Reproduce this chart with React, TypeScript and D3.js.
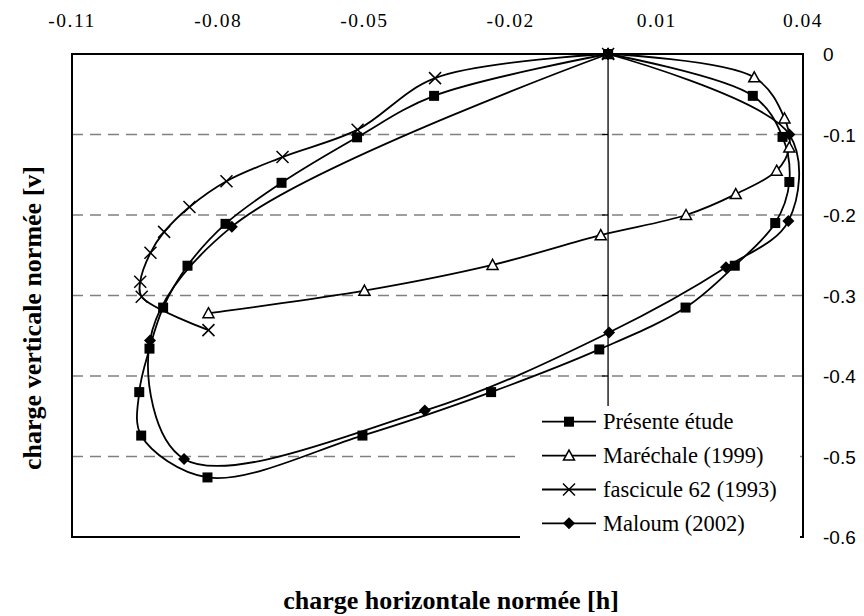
import React from "react";
import * as d3 from "d3";

// ---- data (normalized loads) ----
const xTickValues = [-0.11, -0.08, -0.05, -0.02, 0.01, 0.04];
const xTickLabels = ["-0.11", "-0.08", "-0.05", "-0.02", "0.01", "0.04"];
const yTickValues = [0, -0.1, -0.2, -0.3, -0.4, -0.5, -0.6];
const yTickLabels = ["0", "-0.1", "-0.2", "-0.3", "-0.4", "-0.5", "-0.6"];
const gridValues = [-0.1, -0.2, -0.3, -0.4, -0.5];

const seriesNames = ["Présente étude", "Maréchale (1999)", "fascicule 62 (1993)", "Maloum (2002)"];

const presenteH = [0, 0.0297, 0.0358, 0.0372, 0.0343, 0.026, 0.0159, -0.0018, -0.024, -0.0504, -0.0822, -0.0958, -0.0962, -0.0941, -0.0913, -0.0863, -0.0785, -0.067, -0.0515, -0.0357, 0];
const presenteV = [0, -0.052, -0.103, -0.159, -0.21, -0.263, -0.315, -0.367, -0.42, -0.474, -0.526, -0.474, -0.42, -0.366, -0.315, -0.263, -0.211, -0.16, -0.1035, -0.052, 0];

const marechaleH = [0, 0.03, 0.0362, 0.0372, 0.0346, 0.0262, 0.016, -0.0015, -0.0237, -0.05, -0.082];
const marechaleV = [0, -0.029, -0.08, -0.116, -0.145, -0.174, -0.2, -0.225, -0.262, -0.294, -0.322];

const fasciculeH = [0, -0.0355, -0.0514, -0.0668, -0.0783, -0.0859, -0.0911, -0.0939, -0.096, -0.0957, -0.082];
const fasciculeV = [0, -0.03, -0.094, -0.128, -0.158, -0.19, -0.221, -0.247, -0.283, -0.3015, -0.343];

const maloumH = [0, 0.0372, 0.037, 0.0242, 0.0002, -0.0376, -0.087, -0.094, -0.0772, 0];
const maloumV = [0, -0.1, -0.2075, -0.265, -0.346, -0.443, -0.503, -0.356, -0.2145, 0];

type MarkerType = "square" | "triangle" | "cross" | "diamond";

const W = 864;
const H = 616;
const left = 72, right = 803, top = 54, bottom = 537;

const xScale = d3.scaleLinear().domain([-0.11, 0.04]).range([left, right]);
const yScale = d3.scaleLinear().domain([-0.6, 0]).range([bottom, top]);

const serifFont = "Liberation Serif, Times New Roman, serif";
const sansFont = "Liberation Sans, Arial, sans-serif";

function Marker({ type, cx, cy }: { type: MarkerType; cx: number; cy: number }) {
  if (type === "square") {
    return <rect x={cx - 5} y={cy - 5} width={10} height={10} fill="#000" />;
  }
  if (type === "triangle") {
    const pts = [[cx, cy - 5.5], [cx + 5.5, cy + 4.5], [cx - 5.5, cy + 4.5]].map((p) => p.join(",")).join(" ");
    return <polygon points={pts} fill="#fff" stroke="#000" strokeWidth={1.5} />;
  }
  if (type === "cross") {
    const r = 6;
    return (
      <g stroke="#000" strokeWidth={1.5}>
        <line x1={cx - r} y1={cy - r} x2={cx + r} y2={cy + r} />
        <line x1={cx - r} y1={cy + r} x2={cx + r} y2={cy - r} />
      </g>
    );
  }
  const r = 6;
  const pts = [[cx, cy - r], [cx + r, cy], [cx, cy + r], [cx - r, cy]].map((p) => p.join(",")).join(" ");
  return <polygon points={pts} fill="#000" />;
}

export default function App() {
  const series: { name: string; hs: number[]; vs: number[]; marker: MarkerType }[] = [
    { name: seriesNames[0], hs: presenteH, vs: presenteV, marker: "square" },
    { name: seriesNames[1], hs: marechaleH, vs: marechaleV, marker: "triangle" },
    { name: seriesNames[2], hs: fasciculeH, vs: fasciculeV, marker: "cross" },
    { name: seriesNames[3], hs: maloumH, vs: maloumV, marker: "diamond" },
  ];

  const line = d3
    .line<[number, number]>()
    .x((d) => xScale(d[0]))
    .y((d) => yScale(d[1]))
    .curve(d3.curveCatmullRom.alpha(0.5));

  const x0 = xScale(0);
  const legendRows = [421.7, 455.6, 489.5, 523.3];

  return (
    <svg width={W} height={H} style={{ position: "absolute", left: 0, top: 0, background: "#fff" }}>
      <rect x={0} y={0} width={W} height={H} fill="#fff" />
      {/* gridlines */}
      {gridValues.map((v) => (
        <line key={v} x1={left} x2={right} y1={yScale(v)} y2={yScale(v)} stroke="#808080" strokeWidth={1.5} strokeDasharray="11,7" />
      ))}
      {/* vertical axis at h = 0 */}
      <line x1={x0} x2={x0} y1={top} y2={bottom} stroke="#000" strokeWidth={1.3} />
      {yTickValues.map((v) => (
        <line key={"t" + v} x1={x0 - 6} x2={x0} y1={yScale(v)} y2={yScale(v)} stroke="#000" strokeWidth={1.3} />
      ))}
      {/* plot border */}
      <rect x={left} y={top} width={right - left} height={bottom - top} fill="none" stroke="#000" strokeWidth={2} />

      {/* series */}
      {series.map((s) => {
        const pts: [number, number][] = s.hs.map((h, i) => [h, s.vs[i]]);
        return (
          <g key={s.name}>
            <path d={line(pts) || ""} fill="none" stroke="#000" strokeWidth={1.8} />
            {pts.map((p, i) => (
              <Marker key={i} type={s.marker} cx={xScale(p[0])} cy={yScale(p[1])} />
            ))}
          </g>
        );
      })}

      {/* legend */}
      <rect x={520} y={406} width={280} height={133} fill="#fff" />
      {series.map((s, i) => (
        <g key={"lg" + s.name}>
          <line x1={542} x2={596} y1={legendRows[i]} y2={legendRows[i]} stroke="#000" strokeWidth={1.8} />
          <Marker type={s.marker} cx={569} cy={legendRows[i]} />
          <text x={603} y={legendRows[i] + 7.5} fontFamily={serifFont} fontSize={22.5} fill="#000">
            {s.name}
          </text>
        </g>
      ))}

      {/* top tick labels */}
      {xTickValues.map((v, i) => (
        <text key={"xl" + v} x={xScale(v)} y={27} textAnchor="middle" fontFamily={serifFont} fontSize={19.5} letterSpacing={1.5} fill="#000">
          {xTickLabels[i]}
        </text>
      ))}
      {/* right tick labels */}
      {yTickValues.map((v, i) => (
        <text key={"yl" + v} x={823} y={yScale(v) + 7} fontFamily={sansFont} fontSize={19} fill="#000">
          {yTickLabels[i]}
        </text>
      ))}

      {/* axis titles */}
      <text x={451} y={609} textAnchor="middle" fontFamily={serifFont} fontWeight="bold" fontSize={26} fill="#000">
        charge horizontale normée [h]
      </text>
      <text transform={`translate(41,318) rotate(-90)`} textAnchor="middle" fontFamily={serifFont} fontWeight="bold" fontSize={26} fill="#000">
        charge verticale normée [v]
      </text>
    </svg>
  );
}
